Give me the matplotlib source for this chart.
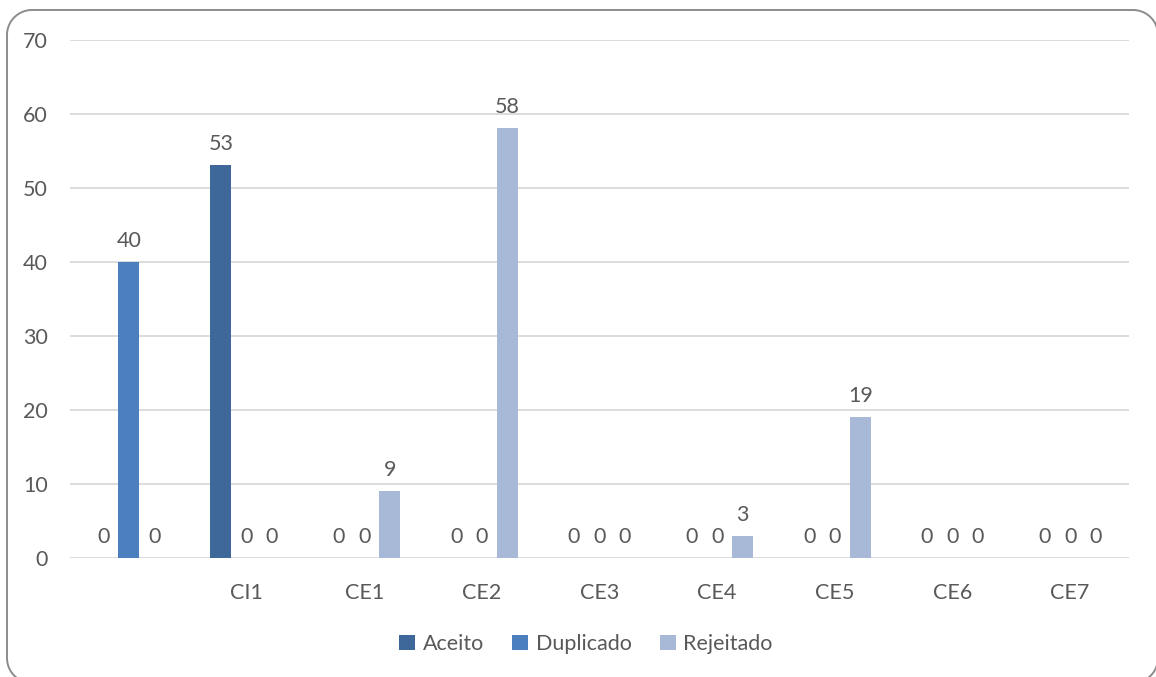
import matplotlib.pyplot as plt
import numpy as np

categories = ["", "CI1", "CE1", "CE2", "CE3", "CE4", "CE5", "CE6", "CE7"]
aceito = [0, 53, 0, 0, 0, 0, 0, 0, 0]
duplicado = [40, 0, 0, 0, 0, 0, 0, 0, 0]
rejeitado = [0, 0, 9, 58, 0, 3, 19, 0, 0]

series = [("Aceito", aceito, "#3E6899"),
          ("Duplicado", duplicado, "#4B7FBE"),
          ("Rejeitado", rejeitado, "#A8B9D8")]

plt.rcParams['font.family'] = ['Lato', 'DejaVu Sans']
txt = "#595959"
fs = 15.5
W, H = 1156, 677

fig = plt.figure(figsize=(W / 100, H / 100), dpi=100)

# background layer in pixel units for the rounded frame
bg = fig.add_axes([0, 0, 1, 1], zorder=-1)
bg.set_xlim(0, W)
bg.set_ylim(0, H)
bg.axis("off")


def rounded_frame(x0, y0, x1, y1, r, n=30):
    pts = []
    corners = [((x1 - r, y1 - r), 90, 0), ((x1 - r, y0 + r), 0, -90),
               ((x0 + r, y0 + r), -90, -180), ((x0 + r, y1 - r), 180, 90)]
    for (cx, cy), a0, a1 in corners:
        t = np.radians(np.linspace(a0, a1, n))
        pts.append(np.column_stack([cx + r * np.cos(t), cy + r * np.sin(t)]))
    pts = np.vstack(pts + [pts[0][:1]])
    return pts[:, 0], pts[:, 1]


fx, fy = rounded_frame(7, -6, 1158, H - 10, 25)
bg.plot(fx, fy, color="#8C8C8C", linewidth=1.4, clip_on=False)

ax = fig.add_axes([70 / W, (H - 558) / H, (1129 - 70) / W, (558 - 39.5) / H])
ax.patch.set_alpha(0)

x = np.arange(len(categories))
w = 0.178
step = 0.217
for i, (name, vals, col) in enumerate(series):
    pos = x + (i - 1) * step
    bars = ax.bar(pos, vals, width=w, color=col, label=name, zorder=3)
    for b, v in zip(bars, vals):
        ax.annotate(str(v), (b.get_x() + b.get_width() / 2, v),
                    xytext=(0, 8), textcoords="offset points",
                    ha="center", va="bottom", fontsize=fs, color=txt)

ax.set_xlim(-0.5, len(categories) - 0.5)
ax.set_ylim(0, 70)
ax.set_yticks(range(0, 71, 10))
ax.set_xticks(x)
ax.set_xticklabels(categories)
ax.grid(axis="y", color="#D9D9D9", linewidth=1.3, zorder=0)
for s in ax.spines.values():
    s.set_visible(False)
ax.tick_params(length=0, labelsize=fs, colors=txt)
ax.tick_params(axis="y", pad=16)
ax.tick_params(axis="x", pad=18)

leg = fig.legend(loc="center", bbox_to_anchor=(586 / W, 1 - 644 / H), ncol=3,
                 frameon=False, fontsize=fs, handlelength=0.75, handleheight=0.75,
                 handletextpad=0.35, columnspacing=1.3)
for t in leg.get_texts():
    t.set_color(txt)

fig.savefig("out.png", dpi=100)
